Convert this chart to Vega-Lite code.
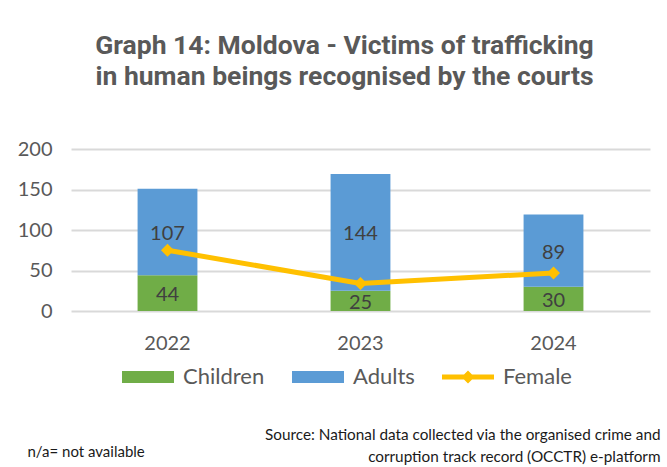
{
  "$schema": "https://vega.github.io/schema/vega-lite/v6.json",
  "autosize": "none",
  "width": 579,
  "height": 162,
  "padding": {"left": 71, "top": 149, "right": 17, "bottom": 156},
  "background": "white",
  "title": {
    "text": ["Graph 14: Moldova - Victims of trafficking", "in human beings recognised by the courts"],
    "font": "Roboto",
    "fontSize": 26.5,
    "fontWeight": "bold",
    "color": "#595959",
    "lineHeight": 31,
    "anchor": "middle",
    "frame": "group",
    "dx": -16,
    "offset": 49
  },
  "datasets": {
    "bars": [
      {"year": "2022", "group": "Children", "count": 44},
      {"year": "2022", "group": "Adults", "count": 107},
      {"year": "2023", "group": "Children", "count": 25},
      {"year": "2023", "group": "Adults", "count": 144},
      {"year": "2024", "group": "Children", "count": 30},
      {"year": "2024", "group": "Adults", "count": 89}
    ],
    "female": [
      {"year": "2022", "group": "Female", "count": 75},
      {"year": "2023", "group": "Female", "count": 34},
      {"year": "2024", "group": "Female", "count": 47}
    ]
  },
  "encoding": {
    "x": {
      "field": "year",
      "type": "ordinal",
      "scale": {"paddingInner": 0.69, "paddingOuter": 0.345},
      "axis": {
        "labelAngle": 0,
        "labelFont": "Lato",
        "labelFontSize": 20,
        "labelColor": "#595959",
        "labelPadding": 22,
        "domain": false,
        "ticks": false,
        "title": ["Source: National data collected via the organised crime and", "corruption track record (OCCTR) e-platform"],
        "titleFont": "Lato",
        "titleFontSize": 15.3,
        "titleFontWeight": "normal",
        "titleColor": "#1a1a1a",
        "titleX": 589,
        "titleY": 128,
        "titleAlign": "right",
        "titleBaseline": "alphabetic",
        "titleLineHeight": 22
      }
    }
  },
  "layer": [
    {
      "data": {"name": "bars"},
      "mark": {"type": "bar"},
      "encoding": {
        "y": {
          "field": "count",
          "type": "quantitative",
          "stack": "zero",
          "scale": {"domain": [0, 200]},
          "axis": {
            "values": [0, 50, 100, 150, 200],
            "grid": true,
            "gridColor": "#d9d9d9",
            "gridWidth": 2,
            "domain": false,
            "ticks": false,
            "labelFont": "Lato",
            "labelFontSize": 20,
            "labelColor": "#595959",
            "labelPadding": 19,
            "title": "n/a= not available",
            "titleAngle": 0,
            "titleFont": "Lato",
            "titleFontSize": 15,
            "titleFontWeight": "normal",
            "titleColor": "#1a1a1a",
            "titleX": -44,
            "titleY": 307,
            "titleAlign": "left",
            "titleBaseline": "alphabetic"
          }
        },
        "color": {
          "field": "group",
          "type": "nominal",
          "sort": ["Children", "Adults", "Female"],
          "scale": {"domain": ["Children", "Adults", "Female"], "range": ["#70ad47", "#5b9bd5", "#ffc000"]},
          "legend": {
            "orient": "none",
            "legendX": 51,
            "legendY": 202,
            "direction": "horizontal",
            "title": null,
            "labelFont": "Lato",
            "labelFontSize": 22,
            "labelColor": "#595959",
            "symbolSize": 2704,
            "columnPadding": 27,
            "labelOffset": 9,
            "encode": {
              "symbols": {
                "update": {
                  "shape": {"signal": "datum.value === 'Female' ? 'M-1,-0.096H1V0.096H-1Z M0,-0.25L0.25,0L0,0.25L-0.25,0Z' : 'M-1,-0.23H1V0.23H-1Z'"},
                  "fill": {"signal": "scale('color', datum.value)"},
                  "stroke": {"value": "transparent"},
                  "strokeWidth": {"value": 0},
                  "opacity": {"value": 1},
                  "fillOpacity": {"value": 1}
                }
              }
            }
          }
        },
        "order": {"field": "group", "sort": "descending"}
      }
    },
    {
      "data": {"name": "bars"},
      "mark": {"type": "text", "font": "Lato", "fontSize": 20, "color": "#404040", "baseline": "middle", "dy": 2},
      "encoding": {
        "y": {"field": "count", "type": "quantitative", "stack": "zero", "bandPosition": 0.5},
        "detail": {"field": "group"},
        "order": {"field": "group", "sort": "descending"},
        "text": {"field": "count", "type": "quantitative"}
      }
    },
    {
      "data": {"name": "female"},
      "mark": {"type": "line", "strokeWidth": 5, "point": {"shape": "diamond", "size": 170, "filled": true, "opacity": 1}},
      "encoding": {
        "y": {"field": "count", "type": "quantitative"},
        "color": {"field": "group", "type": "nominal"}
      }
    }
  ],
  "config": {
    "view": {"stroke": null}
  }
}
